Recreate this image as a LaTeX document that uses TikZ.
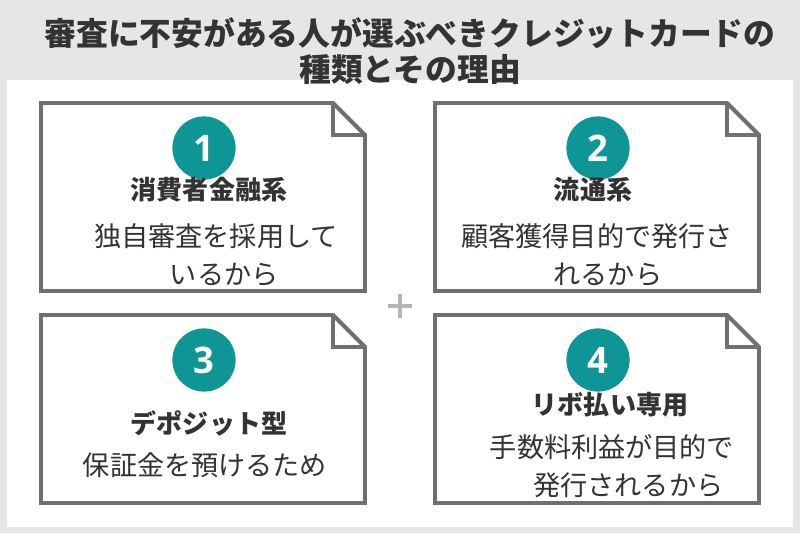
\documentclass[tikz,border=0pt]{standalone}
\usepackage{fontspec}
\setmainfont{Noto Sans CJK JP}
\newfontfamily\numfont{Open Sans}
\usetikzlibrary{positioning}
\definecolor{bggray}{HTML}{E6E6E6}
\definecolor{cardgray}{HTML}{707070}
\definecolor{numteal}{HTML}{0E9696}
\definecolor{textgray}{HTML}{333333}
\definecolor{plusgray}{HTML}{B4B4B4}

\begin{document}
\begin{tikzpicture}[x=0.025cm,y=0.025cm,
  card/.style={draw=cardgray,line width=2.8pt,line join=miter,fill=white},
  fold/.style={draw=cardgray,line width=2.8pt,line join=miter},
  num/.style={circle,fill=numteal,text=white,inner sep=0pt,minimum size=1.58cm,
    font=\numfont\bfseries\fontsize{26}{26}\selectfont},
  head/.style={text=textgray,font=\bfseries\fontsize{18.5}{22}\selectfont},
  body/.style={text=textgray,align=center,font=\fontsize{19.3}{27}\selectfont},
  titletext/.style={text=textgray,align=center,font=\bfseries\fontsize{22.6}{25.5}\selectfont}]
% background and panel
\fill[bggray] (0,0) rectangle (800,533);
\fill[white] (7,6) rectangle (793,453);
\node[titletext] (title) at (410,482) {審査に不安がある人が選ぶべきクレジットカードの\\種類とその理由};
% draw cards
\foreach \cx/\cy/\k in {41/430/1,435/430/2,41/218/3,435/218/4} {
\draw[card] (\cx,\cy) -- ++(292,0) -- ++(32,-32) -- ++(0,-156) -- ++(-324,0) -- cycle;
\draw[fold] (\cx+292,\cy) -- ++(0,-32) -- ++(32,0);
\node[num] (num\k) at (\cx+163,\cy-45) {\k};
}
% texts
\node[head] (head1) at (209,343) {消費者金融系};
\node[body] (body1) at (216,278) {独自審査を採用して\\\hspace{0.6em}いるから};
\node[head] (head2) at (593,343) {流通系};
\node[body] (body2) at (597,278) {顧客獲得目的で発行さ\\\hspace{0.8em}れるから};
\node[head] (head3) at (209,110) {デポジット型};
\node[body] (body3) at (205,68) {保証金を預けるため};
\node[head] (head4) at (610,128) {リボ払い専用};
\node[body] (body4) at (612,67) {手数料利益が目的で\\\hspace{1.2em}発行されるから};
% plus sign
\coordinate (plus) at (400,227);
\draw[plusgray,line width=2.2pt] ([xshift=-0.3cm]plus) -- ([xshift=0.3cm]plus);
\draw[plusgray,line width=2.2pt] ([yshift=-0.3cm]plus) -- ([yshift=0.3cm]plus);
\end{tikzpicture}
\end{document}
